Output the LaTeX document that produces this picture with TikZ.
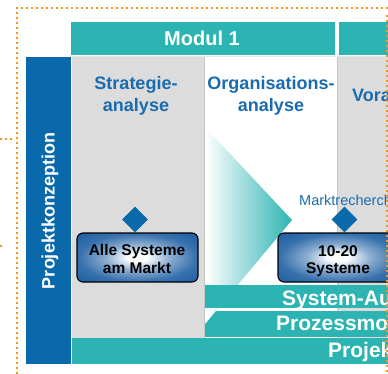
\documentclass[tikz,border=0pt]{standalone}
\usepackage{fontspec}
\setmainfont{Liberation Sans}
\usetikzlibrary{shapes.geometric}
\definecolor{Teal}{HTML}{2CB4B2}
\definecolor{ConceptBlue}{HTML}{0A69AA}
\definecolor{HeadBlue}{HTML}{1A6CB0}
\definecolor{ColGray}{HTML}{DCDCDC}
\definecolor{RuleGray}{HTML}{C6C6C6}
\definecolor{Frame}{HTML}{F7941D}
\definecolor{BoxBlue}{HTML}{1E5FA3}
\pgfdeclareradialshading{boxglow}{\pgfpoint{0bp}{0bp}}{color(0bp)=(white); color(4bp)=(white); color(13bp)=(BoxBlue!50); color(24bp)=(BoxBlue!88); color(34bp)=(BoxBlue); color(80bp)=(BoxBlue)}

\begin{document}
\begin{tikzpicture}[x=1pt,y=-1pt,every node/.style={inner sep=0pt},colhead/.style={font=\fontsize{18}{22}\selectfont\bfseries,text=HeadBlue,anchor=base},barlabel/.style={font=\fontsize{21}{24}\selectfont\bfseries,text=white,anchor=base west},sysbox/.style={draw=black,line width=1.1pt,rounded corners=6pt,shade,shading=boxglow,minimum width=121pt,minimum height=49pt},boxtext/.style={font=\fontsize{15.5}{18}\selectfont\bfseries,text=black,anchor=base},marker/.style={diamond,fill=ConceptBlue,minimum width=26pt,minimum height=26pt},dotframe/.style={draw=Frame,line width=2pt,dash pattern=on 2pt off 3pt}]
\useasboundingbox (0,0) rectangle (388,374);
\clip (0,0) rectangle (388,374);

% columns and module heads
\fill[ColGray] (72,57) rectangle (204,338); \fill[ColGray] (338,57) rectangle (388,338);
\draw[RuleGray,line width=1pt] (204.5,57)--(204.5,338); \draw[RuleGray,line width=1pt] (337.5,57)--(337.5,338);
\draw[ColGray!70,line width=1.5pt] (72,56.5)--(388,56.5);
\fill[Teal] (71,22) rectangle (335,55); \fill[Teal] (339,22) rectangle (388,55);
\node[font=\fontsize{20}{24}\selectfont\bfseries,text=white,anchor=base] (modul) at (202,45.5) {Modul 1};
\fill[ConceptBlue] (26,57) rectangle (71,364);
\node[rotate=90,font=\fontsize{18}{22}\selectfont\bfseries,text=white] (concept) at (50,211) {Projektkonzeption};

\node[colhead] (strat1) at (136,90) {Strategie-}; \node[colhead] (strat2) at (136,112) {analyse};
\node[colhead] (org1) at (271,90) {Organisations-}; \node[colhead] (org2) at (271,112) {analyse};
\node[colhead,anchor=base west] (vora) at (352,102) {Vora};

% bars and funnel
\fill[Teal] (205,311) rectangle (388,336.5);
\shade[left color=white,right color=Teal] (205,127)--(292,220)--(205,324)--cycle;
\fill[Teal] (205,285) rectangle (388,308);
\fill[Teal] (72,338) rectangle (388,364);
\node[barlabel] (sysaus) at (282,305) {System-Au}; \node[barlabel] (prozess) at (276,330) {Prozessmo}; \node[barlabel] (projekt) at (328,357) {Projek};

\node[font=\fontsize{14.5}{17}\selectfont,text=HeadBlue,anchor=base west] (recherche) at (299,205) {Marktrecherch};
\node[marker] (mark1) at (135,219.5) {}; \node[marker] (mark2) at (344.5,219.5) {};
\node[sysbox] (allbox) at (137.5,257.5) {}; \node[sysbox] (topbox) at (338.5,257.5) {};
\node[boxtext] (all1) at (137,255) {Alle Systeme}; \node[boxtext] (all2) at (137,273) {am Markt};
\node[boxtext] (top1) at (338,256) {10-20}; \node[boxtext] (top2) at (338,273) {Systeme};

% dotted frame
\draw[dotframe] (17,374)--(17,8)--(388,8); \draw[dotframe] (386.5,15)--(386.5,374);
\draw[dotframe] (0,139)--(14,139); \fill[Frame] (0,245) rectangle (1.5,247);
\end{tikzpicture}
\end{document}
